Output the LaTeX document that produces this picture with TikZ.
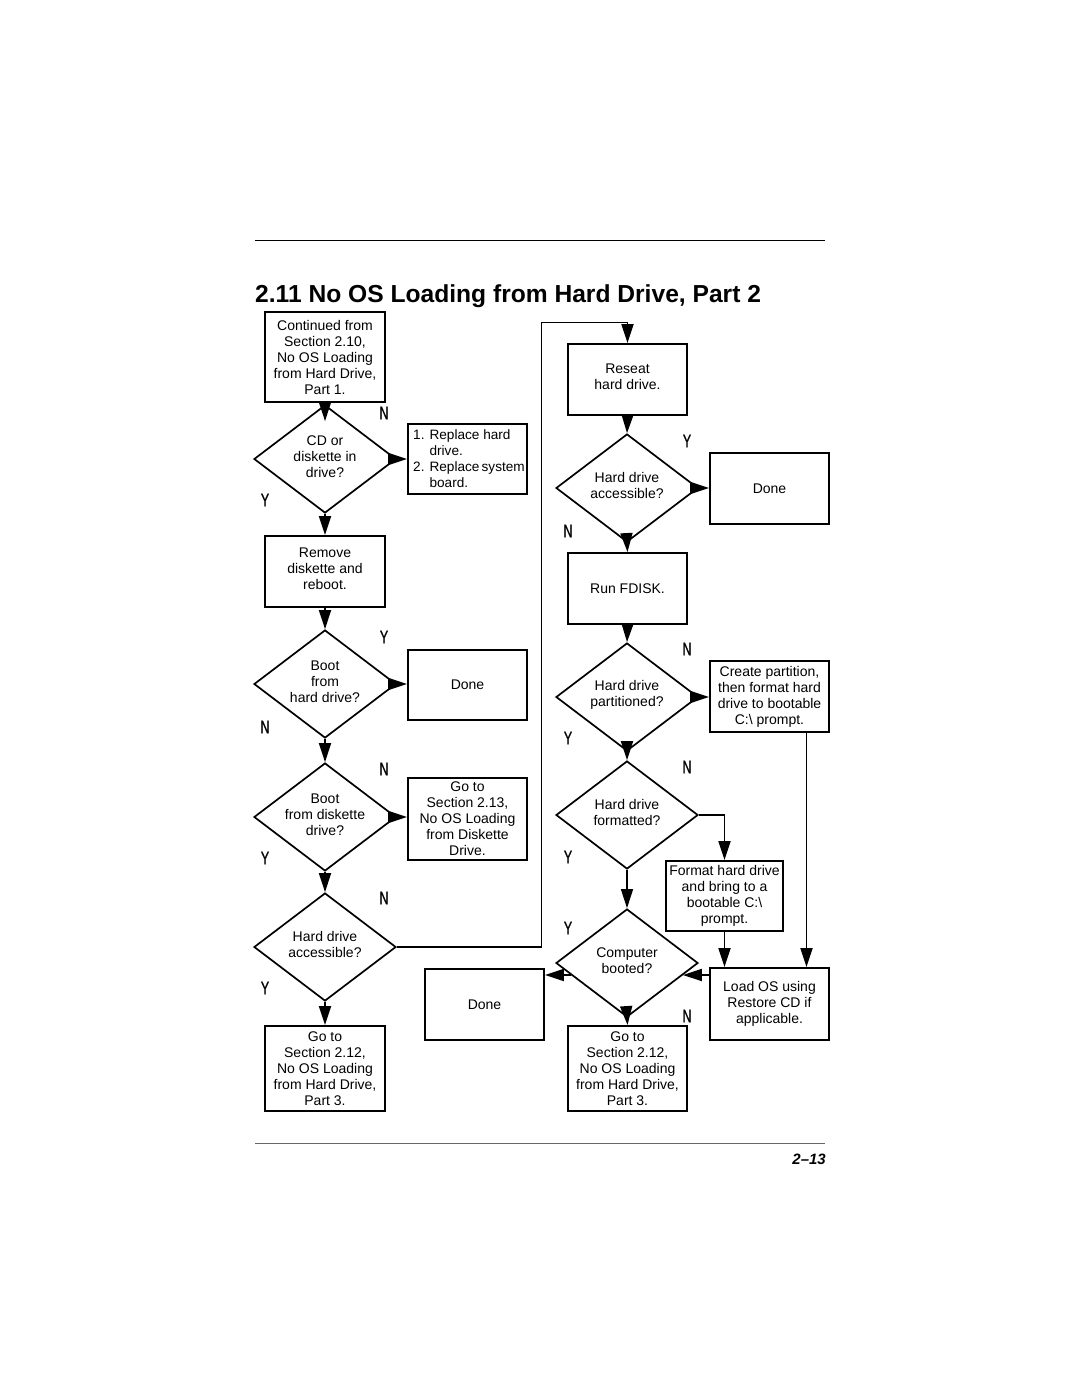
\documentclass[tikz,border=0pt]{standalone}
\usepackage{fontspec}
\setmainfont{Liberation Sans}
\newfontfamily\ynfont[FakeStretch=0.68,FakeBold=0.8]{Liberation Sans}
\usetikzlibrary{shapes.geometric,arrows.meta,calc}
\begin{document}
\begin{tikzpicture}[x=1pt,y=-1pt,
  box/.style={draw, line width=1.9pt, minimum width=120pt, align=center, inner sep=0pt, font=\fontsize{14}{16}\selectfont},
  dia/.style={diamond, draw, line width=1.7pt, minimum width=142pt, minimum height=108pt, inner sep=0pt},
  dtxt/.style={align=center, font=\fontsize{14}{16}\selectfont, inner sep=0pt, yshift=2.5pt},
  yn/.style={font=\ynfont\fontsize{18.5}{19}\selectfont, inner sep=0pt},
  arr/.style={line width=1.8pt, -{Triangle[length=19pt,width=12pt]}},
]
\useasboundingbox (0,0) rectangle (1080,1397);
% rules, title, footer
\draw[line width=1pt] (255,240) coordinate (r1a) -- (825,240) coordinate (r1b);
\draw[line width=1pt, black!60] (255,1143) coordinate (r2a) -- (825,1143) coordinate (r2b);
\node[anchor=base west, inner sep=0pt, font=\bfseries\fontsize{24.6}{28}\selectfont] (title) at (255,302) {2.11 No OS Loading from Hard Drive, Part 2};
\node[anchor=base east, inner sep=0pt, font=\bfseries\itshape\fontsize{15}{18}\selectfont] (pg) at (826,1164) {2--13};

% left column
\node[box, minimum height=90pt] (b1) at (325,357) {Continued from\\Section 2.10,\\No OS Loading\\from Hard Drive,\\Part 1.};
\node[dia, label={[dtxt]center:{CD or\\diskette in\\drive?}}] (d1) at (325,459) {};
\node[box, minimum width=119pt, minimum height=70pt, align=left, font=\fontsize{13.6}{16}\selectfont] (rep) at (467.5,459) {\hspace*{3pt}1. Replace hard\\\hspace*{3pt}\hphantom{1. }drive.\\\hspace*{3pt}2. Replace\hspace{0.16em}system\\\hspace*{3pt}\hphantom{2. }board.};
\node[box, minimum height=71pt] (b2) at (325,571.5) {Remove\\diskette and\\reboot.\\[-10pt]\mbox{}};
\node[dia, label={[dtxt]center:{Boot\\from\\hard drive?}}] (d2) at (325,684) {};
\node[box, minimum width=119pt, minimum height=70pt] (done1) at (467.5,685) {Done};
\node[dia, label={[dtxt]center:{Boot\\from diskette\\drive?}}] (d3) at (325,817) {};
\node[box, minimum width=119pt, minimum height=82pt] (goto13) at (467.5,819) {Go to\\Section 2.13,\\No OS Loading\\from Diskette\\Drive.};
\node[dia, label={[dtxt]center:{Hard drive\\accessible?}}] (d4) at (325,947) {};
\node[box, minimum height=85pt] (goto12a) at (325,1068.5) {Go to\\Section 2.12,\\No OS Loading\\from Hard Drive,\\Part 3.};

% right column
\node[box, minimum width=119pt, minimum height=71pt] (reseat) at (627.5,379.5) {Reseat\\hard drive.\\[-10pt]\mbox{}};
\node[dia, label={[dtxt]center:{Hard drive\\accessible?}}] (d5) at (627,488) {};
\node[box, minimum width=119pt, minimum height=71pt] (done2) at (769.5,488.5) {Done};
\node[box, minimum width=119pt, minimum height=71pt] (fdisk) at (627.5,588.5) {Run FDISK.};
\node[dia, label={[dtxt]center:{Hard drive\\partitioned?}}] (d6) at (627,697) {};
\node[box, minimum width=119pt, minimum height=71pt] (create) at (769.5,696.5) {Create partition,\\then format hard\\drive to bootable\\C:\textbackslash\ prompt.};
\node[dia, label={[dtxt]center:{Hard drive\\formatted?}}] (d7) at (627,815) {};
\node[box, minimum width=117pt, minimum height=70pt] (format) at (724.5,896) {Format hard drive\\and bring to a\\bootable C:\textbackslash\\prompt.};
\node[dia, label={[dtxt]center:{Computer\\booted?}}] (d8) at (627,963) {};
\node[box, minimum width=119pt, minimum height=71pt] (done3) at (484.5,1004.5) {Done};
\node[box, minimum width=119pt, minimum height=72pt] (loados) at (769.5,1004) {Load OS using\\Restore CD if\\applicable.};
\node[box, minimum width=119pt, minimum height=85pt] (goto12b) at (627.5,1068.5) {Go to\\Section 2.12,\\No OS Loading\\from Hard Drive,\\Part 3.};

% Y / N labels
\node[yn] (l1n) at (384,413) {N};
\node[yn] (l1y) at (265,500) {Y};
\node[yn] (l2y) at (384,637) {Y};
\node[yn] (l2n) at (265,727) {N};
\node[yn] (l3n) at (384,769) {N};
\node[yn] (l3y) at (265,858) {Y};
\node[yn] (l4n) at (384,898) {N};
\node[yn] (l4y) at (265,988) {Y};
\node[yn] (l5y) at (687,441) {Y};
\node[yn] (l5n) at (568,531) {N};
\node[yn] (l6n) at (687,649) {N};
\node[yn] (l6y) at (568,738) {Y};
\node[yn] (l7n) at (687,767) {N};
\node[yn] (l7y) at (568,857) {Y};
\node[yn] (l8y) at (568,928) {Y};
\node[yn] (l8n) at (687,1016) {N};

% connectors left
\draw[arr, shorten >=-17pt] (b1.south) -- (d1.north);
\draw[arr] (d1.east) -- (rep.west);
\draw[arr] (d1.south) -- (b2.north);
\draw[arr] (b2.south) -- (d2.north);
\draw[arr] (d2.east) -- (done1.west |- d2.east);
\draw[arr] (d2.south) -- (d3.north);
\draw[arr] (d3.east) -- (goto13.west |- d3.east);
\draw[arr] (d3.south) -- (d4.north);
\draw[arr] (d4.south) -- (goto12a.north);
\coordinate (lp) at (541.5,322.5);
\draw[arr] (d4.east) -| (lp) -| (reseat.north);

% connectors right
\draw[arr] (reseat.south) -- (d5.north);
\draw[arr] (d5.east) -- (done2.west |- d5.east);
\draw[arr] (d5.south) -- (fdisk.north);
\draw[arr] (fdisk.south) -- (d6.north);
\draw[arr] (d6.east) -- (create.west |- d6.east);
\draw[arr] (d6.south) -- (d7.north);
\draw[arr] (d7.east) -| (format.north);
\draw[arr, line width=1.2pt] (d7.south) -- (d8.north);
\draw[arr] (format.south) -- (format.south |- loados.north);
\coordinate (cr) at ([xshift=37pt]create.south);
\draw[arr] (cr) -- (cr |- loados.north);
\draw[arr] (d8.south) -- (goto12b.north);
\coordinate (d8l) at ($(d8.west)+(16,12)$);
\coordinate (d8r) at ($(d8.east)+(-16,12)$);
\draw[arr] (d8l) -- (done3.east |- d8l);
\draw[arr] (loados.west |- d8r) -- (d8r);
\end{tikzpicture}
\end{document}
